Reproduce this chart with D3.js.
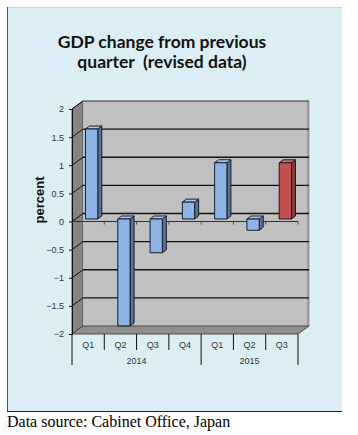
<!DOCTYPE html>
<html>
<head>
<meta charset="utf-8">
<script src="https://cdn.jsdelivr.net/npm/d3@7/dist/d3.min.js"></script>
<style>
  html, body { margin: 0; padding: 0; background: #ffffff; }
  svg { display: block; }
</style>
</head>
<body>
<svg id="chart" width="358" height="435"></svg>
<script>
// ---- data ----
const quarters = ["Q1", "Q2", "Q3", "Q4", "Q1", "Q2", "Q3"];
const years = ["2014", "2014", "2014", "2014", "2015", "2015", "2015"];
const values = [1.6, -1.9, -0.6, 0.3, 1.0, -0.2, 1.0];
const revised = [false, false, false, false, false, false, true];
const yTicks = [-2, -1.5, -1, -0.5, 0, 0.5, 1, 1.5, 2];
const yearGroups = ["2014", "2015"];
const titleLines = ["GDP change from previous", "quarter\u00a0\u00a0(revised data)"];
const yTitle = "percent";
const sourceText = "Data source: Cabinet Office, Japan";

// ---- layout ----
const svg = d3.select("#chart");
const depth = { dx: 11, dy: -8 };          // wall depth offset
const barPlane = { dx: 3.5, dy: -2.5 };    // bar front plane
const barDepth = { dx: 4, dy: -3 };        // bar thickness in depth

const x = d3.scaleBand().domain(d3.range(values.length)).range([72, 298]).padding(0);
const y = d3.scaleLinear().domain([-2, 2]).range([334, 109]);

// background panel
svg.append("rect").attr("x", 7).attr("y", 7).attr("width", 335).attr("height", 405)
  .attr("fill", "#dbeef4");
svg.append("line").attr("x1", 7).attr("x2", 342).attr("y1", 7.5).attr("y2", 7.5)
  .attr("stroke", "#c8d4d8").attr("stroke-width", 1);
svg.append("line").attr("x1", 7.5).attr("x2", 7.5).attr("y1", 7).attr("y2", 412)
  .attr("stroke", "#555").attr("stroke-width", 1);
svg.append("line").attr("x1", 7).attr("x2", 342).attr("y1", 411.5).attr("y2", 411.5)
  .attr("stroke", "#222").attr("stroke-width", 1.2);

// title
svg.append("g").selectAll("text").data(titleLines).join("text")
  .attr("x", 162).attr("y", (d, i) => 48 + i * 20)
  .attr("text-anchor", "middle")
  .attr("font-family", "Lato, 'Open Sans', sans-serif")
  .attr("font-weight", 700).attr("font-size", 17.5)
  .attr("fill", "#111")
  .text(d => d);

const X0 = x.range()[0], X1 = x.range()[1];
const Y0 = y(-2), Y1 = y(2);
const line = d3.line();

// left side wall
svg.append("path")
  .attr("d", line([[X0, Y1], [X0 + depth.dx, Y1 + depth.dy], [X0 + depth.dx, Y0 + depth.dy], [X0, Y0]]) + "Z")
  .attr("fill", "#858585").attr("stroke", "#333").attr("stroke-width", 0.8);
// back wall
svg.append("path")
  .attr("d", line([[X0 + depth.dx, Y1 + depth.dy], [X1 + depth.dx, Y1 + depth.dy], [X1 + depth.dx, Y0 + depth.dy], [X0 + depth.dx, Y0 + depth.dy]]) + "Z")
  .attr("fill", "#c0c0c0");
// right edge shading of back wall
svg.append("rect").attr("x", X1 + depth.dx - 2).attr("y", Y1 + depth.dy)
  .attr("width", 2.5).attr("height", Y0 - Y1).attr("fill", "#9a9a9a");
// floor
svg.append("path")
  .attr("d", line([[X0, Y0], [X0 + depth.dx, Y0 + depth.dy], [X1 + depth.dx, Y0 + depth.dy], [X1, Y0]]) + "Z")
  .attr("fill", "#8f8f8f").attr("stroke", "#333").attr("stroke-width", 0.8);

// gridlines on back wall and left wall
const grid = svg.append("g");
yTicks.filter(t => t > -2).forEach(t => {
  grid.append("line")
    .attr("x1", X0 + depth.dx).attr("x2", X1 + depth.dx)
    .attr("y1", y(t) + depth.dy).attr("y2", y(t) + depth.dy)
    .attr("stroke", t === 2 ? "#333" : "#111").attr("stroke-width", t === 2 ? 1 : 1.3);
  grid.append("line")
    .attr("x1", X0).attr("x2", X0 + depth.dx)
    .attr("y1", y(t)).attr("y2", y(t) + depth.dy)
    .attr("stroke", "#111").attr("stroke-width", 1);
});

// zero category axis line (front)
svg.append("line").attr("x1", X0).attr("x2", X1)
  .attr("y1", y(0)).attr("y2", y(0)).attr("stroke", "#333").attr("stroke-width", 1);
d3.range(1, values.length + 1).forEach(i => {
  const xp = i < values.length ? x(i) : X1;
  svg.append("line").attr("x1", xp).attr("x2", xp)
    .attr("y1", y(0)).attr("y2", y(0) + 3).attr("stroke", "#333").attr("stroke-width", 0.8);
});

// bars
const bw = x.bandwidth() * 0.38;
const bars = svg.append("g");
values.forEach((v, i) => {
  const cx = x(i) + x.bandwidth() / 2;
  const xl = cx - bw / 2 + barPlane.dx, xr = cx + bw / 2 + barPlane.dx;
  const yt = y(Math.max(v, 0)) + barPlane.dy, yb = y(Math.min(v, 0)) + barPlane.dy;
  const red = revised[i];
  const front = red ? "#c0504d" : "#8db4e2";
  const side = red ? "#8c3835" : "#56739e";
  const top = red ? "#d46a67" : "#a9c6ec";
  const stroke = "#1a1f2a";
  const g = bars.append("g").attr("stroke", stroke).attr("stroke-width", 1).attr("stroke-linejoin", "round");
  g.append("path").attr("d", line([[xr, yt], [xr + barDepth.dx, yt + barDepth.dy], [xr + barDepth.dx, yb + barDepth.dy], [xr, yb]]) + "Z")
    .attr("fill", side);
  g.append("path").attr("d", line([[xl, yt], [xl + barDepth.dx, yt + barDepth.dy], [xr + barDepth.dx, yt + barDepth.dy], [xr, yt]]) + "Z")
    .attr("fill", top);
  g.append("rect").attr("x", xl).attr("y", yt).attr("width", xr - xl).attr("height", yb - yt)
    .attr("fill", front);
});

// y axis
const yAxisG = svg.append("g").attr("transform", `translate(${X0},0)`)
  .call(d3.axisLeft(y).tickValues(yTicks).tickSize(3).tickPadding(5).tickFormat(d3.format("")));
yAxisG.select(".domain").attr("stroke", "#111");
yAxisG.selectAll(".tick line").attr("stroke", "#111");
yAxisG.selectAll("text").attr("font-family", "Arial, 'Liberation Sans', sans-serif")
  .attr("font-size", 9).attr("fill", "#333");

// y title
svg.append("text")
  .attr("transform", `translate(44,200) rotate(-90)`)
  .attr("text-anchor", "middle")
  .attr("font-family", "Arial, 'Liberation Sans', sans-serif")
  .attr("font-weight", 700).attr("font-size", 13).attr("fill", "#111")
  .text(yTitle);

// category axis (bottom, multi-level)
const cat = svg.append("g").attr("stroke", "#111").attr("stroke-width", 1);
d3.range(values.length + 1).forEach(i => {
  const xp = i < values.length ? x(i) : X1;
  const isGroupEdge = i === 0 || i === values.length || years[i] !== years[i - 1];
  cat.append("line").attr("x1", xp).attr("x2", xp)
    .attr("y1", Y0).attr("y2", isGroupEdge ? 365 : 350);
});
svg.append("g").selectAll("text").data(quarters).join("text")
  .attr("x", (d, i) => x(i) + x.bandwidth() / 2).attr("y", 347.5)
  .attr("text-anchor", "middle")
  .attr("font-family", "Arial, 'Liberation Sans', sans-serif")
  .attr("font-size", 9).attr("fill", "#333")
  .text(d => d);
svg.append("g").selectAll("text").data(yearGroups).join("text")
  .attr("x", g => {
    const idx = years.map((yv, i) => yv === g ? i : -1).filter(i => i >= 0);
    const a = x(idx[0]), b = x(idx[idx.length - 1]) + x.bandwidth();
    return (a + b) / 2;
  })
  .attr("y", 363.5)
  .attr("text-anchor", "middle")
  .attr("font-family", "Arial, 'Liberation Sans', sans-serif")
  .attr("font-size", 9).attr("fill", "#333")
  .text(d => d);

// source
svg.append("text").attr("x", 7).attr("y", 427)
  .attr("font-family", "'Liberation Serif', 'Times New Roman', serif")
  .attr("font-size", 16).attr("fill", "#000")
  .text(sourceText);
</script>
</body>
</html>
